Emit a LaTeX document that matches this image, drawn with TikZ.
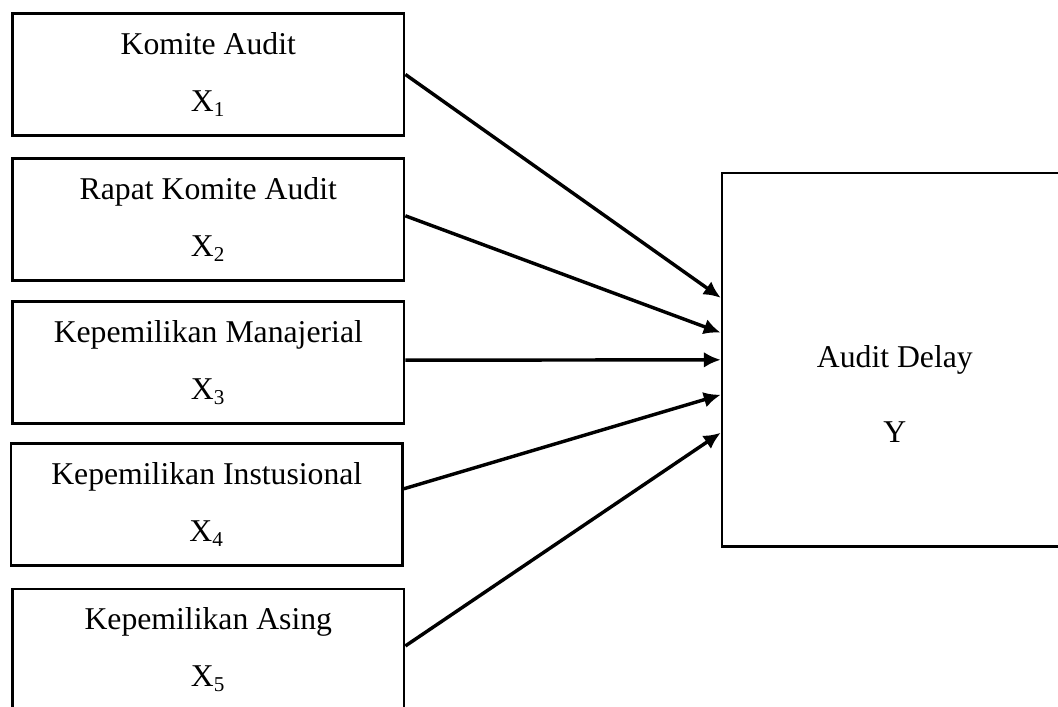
\documentclass[tikz,border=0pt]{standalone}
\usepackage{fontspec}
\setmainfont{Liberation Serif}
\usepackage{tikz}
\usetikzlibrary{arrows.meta,shapes}

\tikzset{
  varbox/.style={draw,line width=0.9pt,minimum width=5.21cm,minimum height=1.62cm,align=center,font=\fontsize{12}{21.6}\selectfont},
  panah/.style={line width=1.3pt,-{Latex[length=6.4pt,width=6pt]}}
}

\begin{document}
\begin{tikzpicture}
\useasboundingbox (0,0) rectangle (14.07,9.40);

%%% INDEPENDENT VARIABLES
\path[draw] (2.77,8.41) node[varbox] (nodeX1) {Komite Audit\\X\textsubscript{1}};
\path[draw] (2.77,6.48) node[varbox] (nodeX2) {Rapat Komite Audit\\X\textsubscript{2}};
\path[draw] (2.77,4.58) node[varbox] (nodeX3) {Kepemilikan Manajerial\\X\textsubscript{3}};
\path[draw] (2.75,2.69) node[varbox] (nodeX4) {Kepemilikan Instusional\\X\textsubscript{4}};
\path[draw] (2.77,0.76) node[varbox] (nodeX5) {Kepemilikan Asing\\X\textsubscript{5}};

%%% DEPENDENT VARIABLE
\path[draw] (11.90,4.615) node[draw,line width=0.9pt,minimum width=4.60cm,minimum height=4.97cm] (nodeY) {};
\path[draw] (11.90,4.16) node[align=center,font=\fontsize{12}{14.4}\selectfont] (nodeYtext) {Audit Delay\\[14pt]Y};

%%% ARROWS
\path[draw,panah] (nodeX1.east) -- ([yshift=0.825cm]nodeY.west);
\path[draw,panah] ([yshift=0.05cm]nodeX2.east) -- ([yshift=0.36cm]nodeY.west);
\path[draw,panah] ([yshift=0.03cm]nodeX3.east) -- ([yshift=0cm]nodeY.west);
\path[draw,panah] ([yshift=0.21cm]nodeX4.east) -- ([yshift=-0.465cm]nodeY.west);
\path[draw,panah] ([yshift=0.05cm]nodeX5.east) -- ([yshift=-0.97cm]nodeY.west);
\end{tikzpicture}
\end{document}
